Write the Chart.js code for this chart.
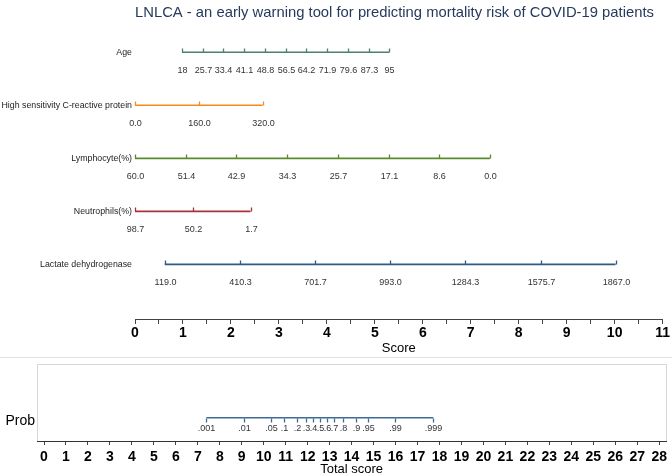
<!DOCTYPE html>
<html>
<head>
<meta charset="utf-8">
<script src="https://cdn.jsdelivr.net/npm/chart.js@4"></script>
<style>
  html, body { margin: 0; padding: 0; background: #fff; }
  #top { position: absolute; left: 0; top: 0; width: 672px; height: 356px; }
  #bot { position: absolute; left: 0; top: 356px; width: 672px; height: 120px; }
</style>
</head>
<body>
<div id="top"><canvas id="c1"></canvas></div>
<div id="bot"><canvas id="c2"></canvas></div>
<script>
const FONT = "'Liberation Sans', Arial, sans-serif";
const TITLE = "LNLCA - an early warning tool for predicting mortality risk of COVID-19 patients";

// variable rows (top panel)
const rowNames = ["Age", "High sensitivity C-reactive protein", "Lymphocyte(%)", "Neutrophils(%)", "Lactate dehydrogenase"];
const rowColors = ["#4e7f74", "#f28c1e", "#5b8a2d", "#a8323a", "#2e5a87"];

const ageLabels = ["18", "25.7", "33.4", "41.1", "48.8", "56.5", "64.2", "71.9", "79.6", "87.3", "95"];
const agePoints = [0.98, 1.41, 1.84, 2.28, 2.71, 3.14, 3.57, 4.00, 4.44, 4.87, 5.30];

const crpLabels = ["0.0", "160.0", "320.0"];
const crpPoints = [0, 1.33, 2.66];

const lymLabels = ["60.0", "51.4", "42.9", "34.3", "25.7", "17.1", "8.6", "0.0"];
const lymPoints = [0, 1.06, 2.11, 3.17, 4.23, 5.29, 6.34, 7.40];

const neuLabels = ["98.7", "50.2", "1.7"];
const neuPoints = [0, 1.21, 2.41];

const ldhLabels = ["119.0", "410.3", "701.7", "993.0", "1284.3", "1575.7", "1867.0"];
const ldhPoints = [0.62, 2.19, 3.76, 5.32, 6.89, 8.46, 10.02];

// probability row (bottom panel), positions in total score
const probLabels = [".001", ".01", ".05", ".1", ".2", ".3", ".4", ".5", ".6", ".7", ".8", ".9", ".95", ".99", ".999"];
const probPoints = [7.39, 9.12, 10.35, 10.91, 11.52, 11.92, 12.25, 12.56, 12.86, 13.19, 13.59, 14.20, 14.76, 15.99, 17.72];

const scoreMax = 11;
const totalMax = 28;

const topRows = [
  { labels: ageLabels, points: agePoints },
  { labels: crpLabels, points: crpPoints },
  { labels: lymLabels, points: lymPoints },
  { labels: neuLabels, points: neuPoints },
  { labels: ldhLabels, points: ldhPoints }
];

// short ticks + value labels along each row
function rowTicks(id, rows, dir, len, gap) {
  return {
    id: id,
    afterDatasetsDraw(chart) {
      const ctx = chart.ctx, xs = chart.scales.x, ys = chart.scales.y;
      ctx.save();
      ctx.font = "9px " + FONT;
      ctx.fillStyle = "#333";
      ctx.textAlign = "center";
      ctx.textBaseline = "middle";
      chart.data.datasets.forEach((ds, i) => {
        const y = Math.round(ys.getPixelForValue(ds.data[0].y)) + 0.5;
        ctx.strokeStyle = ds.borderColor;
        ctx.lineWidth = 1.3;
        rows[i].points.forEach((p, k) => {
          const x = Math.round(xs.getPixelForValue(p)) + 0.5;
          ctx.beginPath();
          ctx.moveTo(x, y);
          ctx.lineTo(x, y + dir * len);
          ctx.stroke();
          ctx.fillText(rows[i].labels[k], x, y + gap);
        });
      });
      ctx.restore();
    }
  };
}

new Chart(document.getElementById("c1"), {
  type: "scatter",
  data: {
    datasets: topRows.map((r, i) => ({
      data: r.points.map(p => ({ x: p, y: i })),
      showLine: true,
      borderColor: rowColors[i],
      borderWidth: 1.6,
      pointRadius: 0,
      tension: 0
    }))
  },
  options: {
    responsive: true,
    maintainAspectRatio: false,
    animation: false,
    devicePixelRatio: 1,
    layout: { padding: { left: 0, right: 8, top: 0, bottom: 0 } },
    plugins: {
      legend: { display: false },
      tooltip: { enabled: false },
      title: {
        display: true, text: TITLE, fullSize: false, align: "start", color: "#263a5c",
        font: { family: FONT, size: 14.8, weight: "normal" },
        padding: { top: 4, bottom: 16 }
      }
    },
    scales: {
      x: {
        type: "linear", position: "bottom", min: 0, max: scoreMax,
        grid: { display: true, drawOnChartArea: false, drawTicks: true, tickLength: 5, color: "#444" },
        border: { display: true, color: "#444", width: 1 },
        ticks: {
          stepSize: 0.5, autoSkip: false, maxRotation: 0, padding: 2, color: "#000",
          font: { family: FONT, size: 14, weight: "bold", lineHeight: 1 },
          callback: v => Number.isInteger(v) ? String(v) : ""
        },
        title: {
          display: true, text: "Score", color: "#000",
          font: { family: FONT, size: 13, lineHeight: 1 },
          padding: { top: 0, bottom: 1 }
        }
      },
      y: {
        type: "linear", reverse: true, min: -0.273, max: 5.029,
        afterBuildTicks: s => { s.ticks = rowNames.map((_, i) => ({ value: i })); },
        afterFit: s => { s.width = 135; },
        grid: { display: false, drawTicks: false },
        border: { display: false },
        ticks: {
          autoSkip: false, padding: 3, color: "#222",
          font: { family: FONT, size: 8.8 },
          callback: v => rowNames[v]
        }
      }
    }
  },
  plugins: [rowTicks("topTicks", topRows, -1, 4, 18.5)]
});

// frame of the bottom panel
const probFrame = {
  id: "probFrame",
  beforeDatasetsDraw(chart) {
    const ctx = chart.ctx, a = chart.chartArea;
    ctx.save();
    ctx.strokeStyle = "#e2e2e2";
    ctx.lineWidth = 1;
    ctx.beginPath();
    ctx.moveTo(0, 1.5); ctx.lineTo(chart.width, 1.5);
    ctx.stroke();
    ctx.strokeStyle = "#d6d6d6";
    ctx.strokeRect(37.5, a.top + 0.5, 629, a.bottom - a.top);
    ctx.strokeStyle = "#333";
    ctx.beginPath();
    ctx.moveTo(37, Math.round(a.bottom) + 0.5); ctx.lineTo(667, Math.round(a.bottom) + 0.5);
    ctx.stroke();
    ctx.restore();
  }
};

const probRows = [{ labels: probLabels, points: probPoints }];

new Chart(document.getElementById("c2"), {
  type: "scatter",
  data: {
    datasets: [{
      data: probPoints.map(p => ({ x: p, y: 0 })),
      showLine: true,
      borderColor: "#3f6a94",
      borderWidth: 1.6,
      pointRadius: 0,
      tension: 0
    }]
  },
  options: {
    responsive: true,
    maintainAspectRatio: false,
    animation: false,
    devicePixelRatio: 1,
    layout: { padding: { left: 0, right: 10, top: 8, bottom: 0 } },
    plugins: { legend: { display: false }, tooltip: { enabled: false } },
    scales: {
      x: {
        type: "linear", position: "bottom", min: 0, max: totalMax,
        grid: { display: true, drawOnChartArea: false, drawTicks: true, tickLength: 4, color: "#444" },
        border: { display: false },
        ticks: {
          stepSize: 1, autoSkip: false, maxRotation: 0, padding: 5, color: "#000",
          font: { family: FONT, size: 14, weight: "bold", lineHeight: 1 }
        },
        title: {
          display: true, text: "Total score", color: "#000",
          font: { family: FONT, size: 13, lineHeight: 1 },
          padding: { top: -6, bottom: 0 }
        }
      },
      y: {
        type: "linear", min: -0.434, max: 1,
        afterBuildTicks: s => { s.ticks = [{ value: 0 }]; },
        afterFit: s => { s.width = 44; s.paddingTop = 0; s.paddingBottom = 0; },
        grid: { display: false, drawTicks: false },
        border: { display: false },
        ticks: {
          autoSkip: false, padding: 9, labelOffset: 3, color: "#000",
          font: { family: FONT, size: 14 },
          callback: () => "Prob"
        }
      }
    }
  },
  plugins: [probFrame, rowTicks("probTicks", probRows, 1, 4, 10)]
});
</script>
</body>
</html>
